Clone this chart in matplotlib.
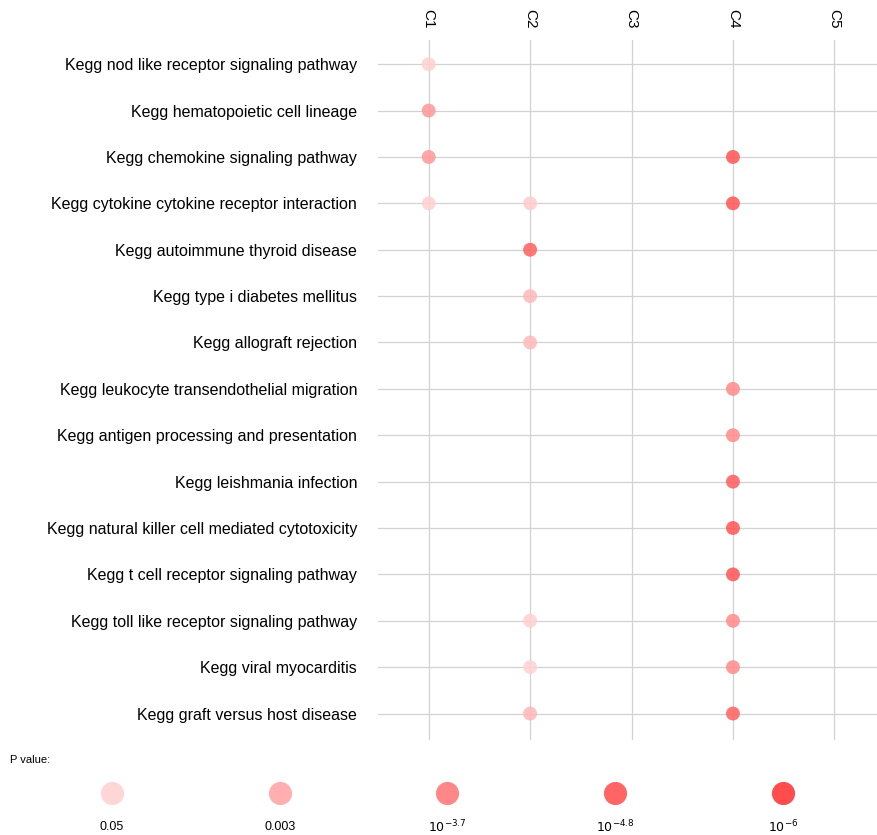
import numpy as np
import matplotlib.pyplot as plt
from matplotlib.colors import LinearSegmentedColormap, Normalize

plt.rcParams['font.family'] = ['Liberation Sans', 'DejaVu Sans']

pathways = [
    'Kegg nod like receptor signaling pathway',
    'Kegg hematopoietic cell lineage',
    'Kegg chemokine signaling pathway',
    'Kegg cytokine cytokine receptor interaction',
    'Kegg autoimmune thyroid disease',
    'Kegg type i diabetes mellitus',
    'Kegg allograft rejection',
    'Kegg leukocyte transendothelial migration',
    'Kegg antigen processing and presentation',
    'Kegg leishmania infection',
    'Kegg natural killer cell mediated cytotoxicity',
    'Kegg t cell receptor signaling pathway',
    'Kegg toll like receptor signaling pathway',
    'Kegg viral myocarditis',
    'Kegg graft versus host disease',
]
clusters = ['C1', 'C2', 'C3', 'C4', 'C5']

# each dot: pathway, cluster, -log10(p)
dot_pathway = [0, 1, 2, 2, 3, 3, 3, 4, 5, 6, 7, 8, 9, 10, 11, 12, 12, 13, 13, 14, 14]
dot_cluster = ['C1', 'C1', 'C1', 'C4', 'C1', 'C2', 'C4', 'C2', 'C2', 'C2', 'C4', 'C4', 'C4', 'C4', 'C4',
               'C2', 'C4', 'C2', 'C4', 'C2', 'C4']
dot_logp = [1.5, 3.2, 3.2, 5.6, 1.5, 1.6, 5.6, 5.0, 2.2, 2.2, 3.6, 3.6, 5.2, 5.6, 5.6,
            1.5, 3.6, 1.4, 3.6, 2.3, 5.0]

legend_logp = [1.3, 2.5, 3.7, 4.8, 6.0]
legend_labels = ['0.05', '0.003', r'$10^{-3.7}$', r'$10^{-4.8}$', r'$10^{-6}$']

cmap = LinearSegmentedColormap.from_list(
    'pv', ['#ffd6d6', '#ffb0b0', '#ff8888', '#ff6464', '#ff4c4c'])
norm = Normalize(1.3, 6.0)

fig = plt.figure(figsize=(8.78, 8.35), dpi=100)
ax = fig.add_axes([0.4305, 0.1138, 0.5695, 0.8382])

y = [len(pathways) - 1 - i for i in dot_pathway]
x = [clusters.index(c) for c in dot_cluster]
ax.scatter(x, y, s=100, c=dot_logp, cmap=cmap, norm=norm, alpha=0.85,
           edgecolors='none', zorder=3)

ax.set_xlim(-0.5, 4.43)
ax.set_ylim(-0.57, len(pathways) - 0.48)
ax.set_xticks(range(len(clusters)))
ax.set_xticklabels(clusters, rotation=-90, fontsize=11)
ax.xaxis.tick_top()
ax.set_yticks(range(len(pathways)))
ax.set_yticklabels(pathways[::-1], fontsize=11.5)
ax.tick_params(length=0, pad=15)
ax.tick_params(axis='x', pad=8)
ax.grid(True, color='#d2d2d2', linewidth=0.9)
ax.set_axisbelow(True)
for s in ax.spines.values():
    s.set_visible(False)

# legend
lax = fig.add_axes([0.0, 0.0, 1.0, 0.09])
lax.set_xlim(0, 878)
lax.set_ylim(0, 75)
lax.axis('off')
leg_x = [112, 280, 447, 615, 783]
for lx, lp, lab in zip(leg_x, legend_logp, legend_labels):
    col = cmap(norm(lp))
    lax.scatter([lx], [42], s=250, color=col, edgecolors=col, linewidths=0.8, zorder=3)
    lax.text(lx, 8, lab, ha='center', va='center', fontsize=9)
fig.text(10 / 878, 1 - 760 / 835, 'P value:', fontsize=8, ha='left', va='center')

fig.savefig('out.png', dpi=100)
